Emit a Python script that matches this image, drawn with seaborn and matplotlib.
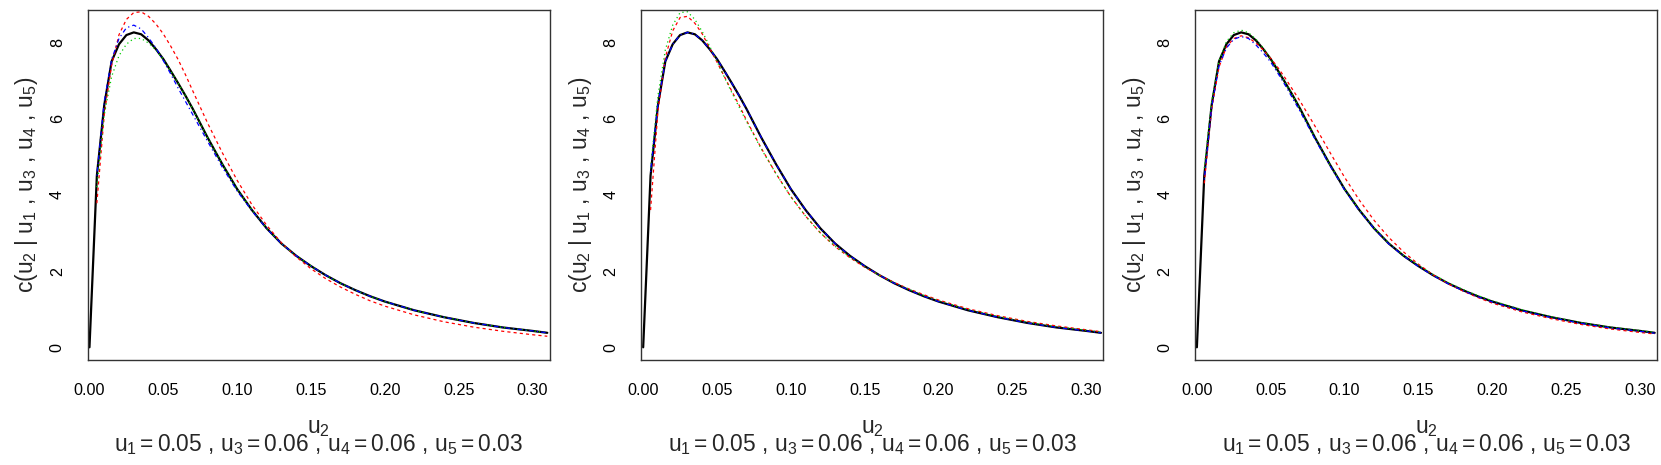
import numpy as np
import matplotlib
matplotlib.use("Agg")
import matplotlib.pyplot as plt
import seaborn as sns

# ---------------- data ----------------
u2 = [0, 0.005, 0.01, 0.015, 0.02, 0.025, 0.03, 0.035, 0.04, 0.045, 0.05,
      0.055, 0.06, 0.065, 0.07, 0.08, 0.09, 0.10, 0.11, 0.12, 0.13, 0.14,
      0.15, 0.16, 0.17, 0.18, 0.19, 0.20, 0.22, 0.24, 0.26, 0.28, 0.30, 0.31]
u2_approx = u2[1:]

# true conditional density (black, same in all panels)
true_density = [0, 4.5, 6.35, 7.5, 7.95, 8.19, 8.26, 8.21, 8.05, 7.82, 7.56,
                7.25, 6.93, 6.6, 6.25, 5.5, 4.8, 4.15, 3.6, 3.12, 2.72, 2.4,
                2.13, 1.89, 1.68, 1.5, 1.34, 1.2, 0.97, 0.79, 0.64, 0.52, 0.43, 0.38]

# panel 1 approximations
p1_red = [3.78, 6.1, 7.4, 8.2, 8.6, 8.78, 8.8, 8.68, 8.48, 8.22,
          7.9, 7.55, 7.15, 6.72, 5.88, 5.1, 4.38, 3.74, 3.2, 2.74, 2.37,
          2.06, 1.8, 1.58, 1.39, 1.22, 1.08, 0.85, 0.67, 0.53, 0.42, 0.33, 0.29]
p1_green = [4.2, 6.1, 7.1, 7.65, 7.95, 8.1, 8.1, 7.98, 7.8, 7.56,
            7.25, 6.93, 6.6, 6.25, 5.5, 4.8, 4.15, 3.6, 3.12, 2.72, 2.4,
            2.13, 1.89, 1.68, 1.5, 1.34, 1.2, 0.97, 0.79, 0.64, 0.52, 0.43, 0.38]
p1_blue = [4.5, 6.45, 7.55, 8.1, 8.38, 8.45, 8.35, 8.12, 7.85, 7.52,
           7.17, 6.8, 6.45, 6.1, 5.4, 4.72, 4.1, 3.58, 3.11, 2.72, 2.4,
           2.13, 1.89, 1.68, 1.5, 1.34, 1.2, 0.97, 0.79, 0.64, 0.52, 0.43, 0.38]

# panel 2 approximations
p2_red = [3.6, 6.2, 7.6, 8.3, 8.65, 8.68, 8.5, 8.22, 7.85, 7.48,
          7.1, 6.72, 6.35, 5.95, 5.22, 4.55, 3.95, 3.44, 3.0, 2.64, 2.35,
          2.1, 1.89, 1.7, 1.53, 1.38, 1.24, 1.01, 0.83, 0.68, 0.56, 0.46, 0.41]
p2_green = [4.7, 6.6, 7.8, 8.45, 8.78, 8.8, 8.6, 8.28, 7.9, 7.5,
            7.08, 6.68, 6.3, 5.92, 5.2, 4.55, 3.95, 3.44, 3.0, 2.65, 2.36,
            2.11, 1.89, 1.69, 1.52, 1.36, 1.22, 0.99, 0.81, 0.66, 0.54, 0.45, 0.40]
p2_blue = [4.6, 6.38, 7.5, 7.95, 8.19, 8.26, 8.21, 8.05, 7.82, 7.56,
           7.25, 6.93, 6.6, 6.25, 5.5, 4.8, 4.15, 3.6, 3.12, 2.72, 2.4,
           2.13, 1.89, 1.68, 1.5, 1.34, 1.2, 0.97, 0.79, 0.64, 0.52, 0.43, 0.38]

# panel 3 approximations
p3_red = [4.3, 6.25, 7.35, 7.88, 8.1, 8.17, 8.12, 7.98, 7.8, 7.58,
          7.33, 7.05, 6.75, 6.45, 5.8, 5.12, 4.46, 3.86, 3.33, 2.88, 2.5,
          2.18, 1.9, 1.67, 1.48, 1.31, 1.16, 0.93, 0.75, 0.6, 0.48, 0.39, 0.35]
p3_green = [4.7, 6.45, 7.5, 8.02, 8.25, 8.32, 8.25, 8.08, 7.85, 7.56,
            7.25, 6.93, 6.6, 6.25, 5.5, 4.8, 4.15, 3.6, 3.13, 2.73, 2.41,
            2.15, 1.91, 1.7, 1.52, 1.36, 1.22, 0.99, 0.8, 0.65, 0.53, 0.44, 0.39]
p3_blue = [4.4, 6.3, 7.38, 7.85, 8.08, 8.15, 8.1, 7.93, 7.72, 7.48,
           7.18, 6.86, 6.52, 6.18, 5.46, 4.77, 4.13, 3.58, 3.11, 2.71, 2.39,
           2.12, 1.88, 1.67, 1.49, 1.33, 1.19, 0.96, 0.78, 0.63, 0.51, 0.42, 0.37]

panels = [
    (p1_red, p1_green, p1_blue),
    (p2_red, p2_green, p2_blue),
    (p3_red, p3_green, p3_blue),
]

x_ticks = [0.00, 0.05, 0.10, 0.15, 0.20, 0.25, 0.30]
x_tick_labels = ["0.00", "0.05", "0.10", "0.15", "0.20", "0.25", "0.30"]
y_ticks = [0, 2, 4, 6, 8]
y_tick_labels = ["0", "2", "4", "6", "8"]

ylabel = r"$\mathrm{c}\left(u_2\ |\ u_1\ ,\,u_3\ ,\,u_4\ ,\,u_5\right)$"
xlabel = r"$u_2$"
subtitle = r"$u_1 = 0.05\ ,\,u_3 = 0.06\ ,\,u_4 = 0.06\ ,\,u_5 = 0.03$"

# ---------------- style ----------------
sns.set_style("white")
plt.rcParams["font.family"] = ["Liberation Sans", "DejaVu Sans"]
plt.rcParams["mathtext.fontset"] = "custom"
plt.rcParams["mathtext.rm"] = "Liberation Sans"
plt.rcParams["mathtext.it"] = "Liberation Sans"
plt.rcParams["mathtext.bf"] = "Liberation Sans:bold"

W, H = 1661, 465
fig = plt.figure(figsize=(W / 100, H / 100), dpi=100)

frame_col = "#333333"
left0, step, width_px = 87.7, 553.7, 461.8
top_px, bottom_px = 10, 360

for i, (red, green, blue) in enumerate(panels):
    lpx = left0 + i * step
    ax = fig.add_axes([lpx / W, 1 - bottom_px / H, width_px / W, (bottom_px - top_px) / H])
    sns.lineplot(x=u2, y=true_density, ax=ax, color="black", linewidth=1.6,
                 estimator=None, sort=False)
    sns.lineplot(x=u2_approx, y=red, ax=ax, color="#FF0000", linewidth=0.9,
                 linestyle=(0, (2.5, 2.5)), estimator=None, sort=False)
    sns.lineplot(x=u2_approx, y=green, ax=ax, color="#00CD00", linewidth=0.9,
                 linestyle=(0, (1, 2.5)), estimator=None, sort=False)
    sns.lineplot(x=u2_approx, y=blue, ax=ax, color="#0000FF", linewidth=0.9,
                 linestyle=(0, (1, 2.5, 3.5, 2.5)), estimator=None, sort=False)

    ax.set_xlim(-0.0012, 0.3115)
    ax.set_ylim(-0.333, 8.847)
    ax.set_xticks(x_ticks)
    ax.set_xticklabels(x_tick_labels)
    ax.set_yticks(y_ticks)
    ax.set_yticklabels(y_tick_labels, rotation=90, va="center")
    ax.tick_params(axis="both", direction="out", length=7.5, width=0.9,
                   color=frame_col, labelsize=11.6, labelcolor="black")
    ax.tick_params(axis="x", pad=9)
    ax.tick_params(axis="y", pad=9)
    ax.set_xlabel("")
    ax.set_ylabel("")
    for s in ax.spines.values():
        s.set_visible(True)
        s.set_color(frame_col)
        s.set_linewidth(1.0)

    cx = (lpx + width_px / 2) / W
    fig.text((lpx - 61) / W, 1 - 185 / H, ylabel, rotation=90, ha="center",
             va="center", fontsize=16.5)
    fig.text(cx, 1 - 433 / H, xlabel, ha="center", va="baseline", fontsize=16.5)
    fig.text(cx, 1 - 451.5 / H, subtitle, ha="center", va="baseline", fontsize=16.4)

fig.savefig("out.png", dpi=100)
